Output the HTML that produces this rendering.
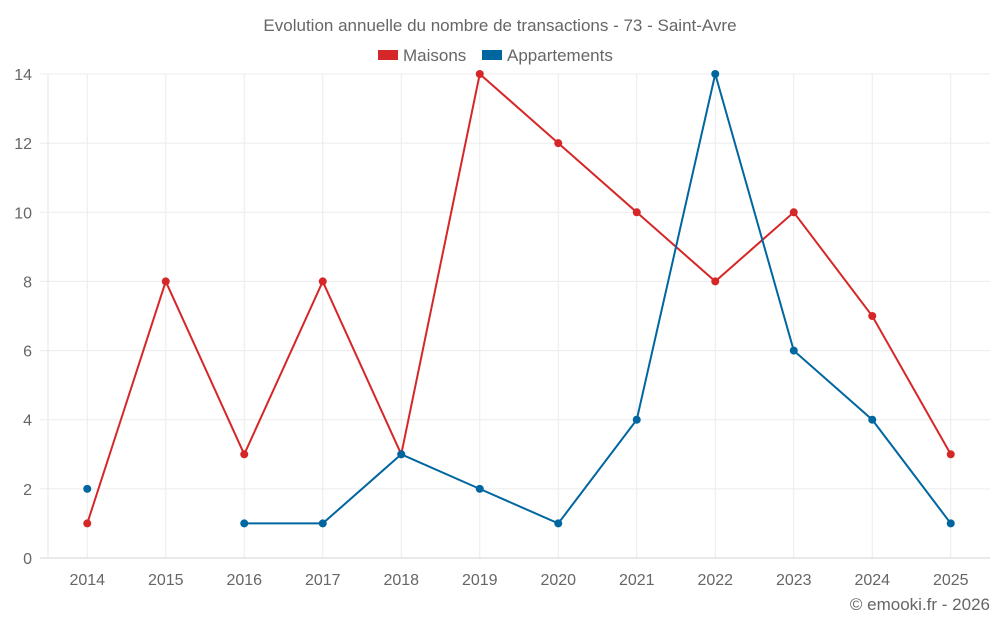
<!DOCTYPE html>
<html><head><meta charset="utf-8"><style>
body{margin:0;background:#fff;font-family:"Liberation Sans",sans-serif;}
svg text{font-family:"Liberation Sans",sans-serif;fill:#666;}
</style></head><body>
<svg id="c" width="1000" height="625">
<text x="500" y="31" text-anchor="middle" font-size="17">Evolution annuelle du nombre de transactions - 73 - Saint-Avre</text>
<g>
<rect x="378" y="50" width="20" height="10" fill="#d62728"/>
<text x="403" y="61" font-size="17">Maisons</text>
<rect x="482" y="50" width="20" height="10" fill="#0066a0"/>
<text x="507" y="61" font-size="17">Appartements</text>
</g>
<text x="990" y="610" text-anchor="end" font-size="17">© emooki.fr - 2026</text>
<g id="grid"></g><g id="axes"></g><g id="series"></g>
</svg>
<script>
const categories=["2014","2015","2016","2017","2018","2019","2020","2021","2022","2023","2024","2025"];
const maisons=[1,8,3,8,3,14,12,10,8,10,7,3];
const appartements=[2,null,1,1,3,2,1,4,14,6,4,1];
const yTicks=[0,2,4,6,8,10,12,14];
const L=48,R=990,T=74,B=558,yMax=14;
const step=(R-L)/categories.length;
const xs=i=>L+(i+0.5)*step;
const ys=v=>B-(v/yMax)*(B-T);
const NS="http://www.w3.org/2000/svg";
function mk(tag,attrs,parent){const e=document.createElementNS(NS,tag);for(const k in attrs)e.setAttribute(k,attrs[k]);parent.appendChild(e);return e;}
const grid=document.getElementById('grid'),axes=document.getElementById('axes'),ser=document.getElementById('series');
categories.forEach((c,i)=>{
 const l=mk('line',{x1:xs(i),x2:xs(i),y1:T,y2:B,stroke:'#ececec'},grid);
 
 
});
const ax=mk('line',{x1:L,x2:L,y1:T,y2:B,stroke:'#e4e4e4'},grid);


yTicks.forEach(t=>{
 const l=mk('line',{x1:40,x2:R,y1:ys(t),y2:ys(t),stroke:t===0?'#d6d6d6':'#ececec'},grid);
 
 
 const tx=mk('text',{x:L-16,y:ys(t)+6,'text-anchor':'end','font-size':16},axes);tx.textContent=t;
 
 
});
categories.forEach((c,i)=>{
 const tx=mk('text',{x:xs(i),y:585,'text-anchor':'middle','font-size':16},axes);tx.textContent=c;
 
 
});
function draw(data,color,name){
 let segs=[],cur=[];
 data.forEach((v,i)=>{if(v==null){if(cur.length)segs.push(cur);cur=[];}else cur.push([xs(i),ys(v)]);});
 if(cur.length)segs.push(cur);
 segs.forEach(s=>{if(s.length>1){const p=mk('polyline',{points:s.map(q=>q.join(',')).join(' '),fill:'none',stroke:color,'stroke-width':2},ser);
  
  }});
 data.forEach((v,i)=>{if(v==null)return;const c=mk('circle',{cx:xs(i),cy:ys(v),r:4,fill:color},ser);
  
  });
}
draw(maisons,'#d62728','maisons');
draw(appartements,'#0066a0','appartements');
</script>
</body></html>
